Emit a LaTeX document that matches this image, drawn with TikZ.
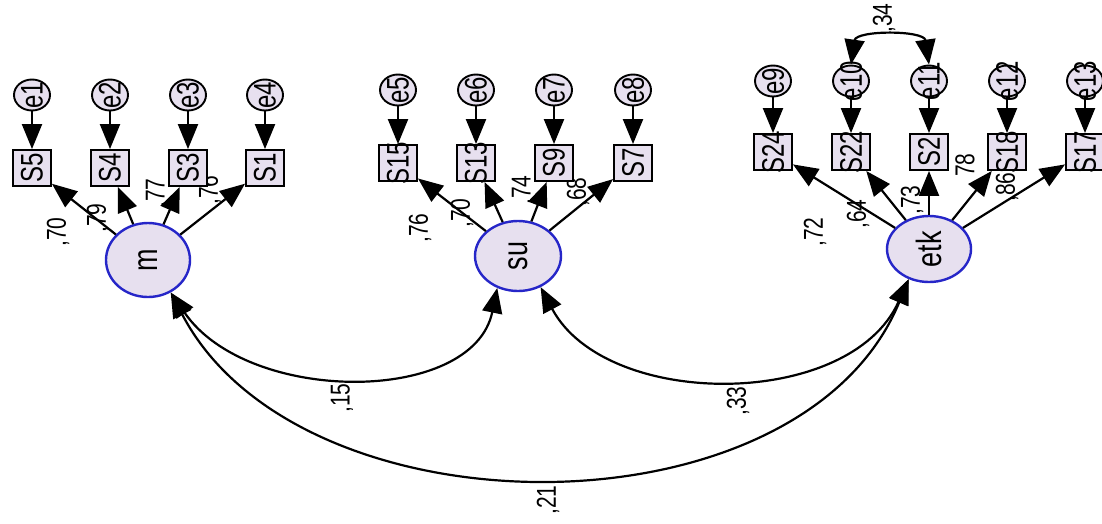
\documentclass[tikz,border=0pt]{standalone}
\usepackage{fontspec}
\setmainfont{Liberation Sans}
\usetikzlibrary{arrows.meta,shapes.geometric}
\definecolor{fillc}{HTML}{E7E0EF}
\definecolor{blu}{HTML}{2626C8}
\newcommand\stt[1]{\scalebox{1}[1.3]{#1}}
\begin{document}
\begin{tikzpicture}[x=1pt,y=-1pt,
  obstxt/.style={rotate=90,inner sep=0pt,font=\fontsize{24}{24}\selectfont},
  obs/.style={draw,line width=1.9pt,fill=fillc,minimum width=38pt,minimum height=36pt,inner sep=0pt,
    label={[obstxt]center:\stt{#1}}},
  err/.style={draw,ellipse,line width=1.9pt,fill=fillc,minimum width=36pt,minimum height=31pt,inner sep=0pt,
    label={[obstxt]center:\stt{#1}}},
  lattxt/.style={rotate=90,inner sep=0pt,font=\fontsize{27}{27}\selectfont},
  lat/.style={draw=blu,ellipse,line width=2.4pt,fill=fillc,inner sep=0pt,
    label={[lattxt]center:\stt{#1}}},
  plbl/.style={rotate=90,inner sep=0pt,font=\fontsize{21}{21}\selectfont},
  arr/.style={line width=2.2pt,-{Triangle[length=25pt,width=20pt]}},
  cov/.style={line width=2.2pt,{Triangle[length=25pt,width=20pt]}-{Triangle[length=25pt,width=20pt]}}]
\useasboundingbox (0,0) rectangle (1102,523);
\clip (0,0) rectangle (1102,523);

% path labels (drawn first, partly hidden as in the original)
\node[plbl] (l1) at (58,232) {\stt{,70}};
\node[plbl] (l2) at (98,218) {\stt{,79}};
\node[plbl] (l3) at (157,193) {\stt{,77}};
\node[plbl] (l4) at (210,190) {\stt{,76}};
\node[plbl] (l5) at (420,228) {\stt{,76}};
\node[plbl] (l6) at (462,213) {\stt{,70}};
\node[plbl] (l7) at (523,190) {\stt{,74}};
\node[plbl] (l8) at (578,192) {\stt{,68}};
\node[plbl] (l9) at (815,232) {\stt{,72}};
\node[plbl] (l10) at (858,214) {\stt{,64}};
\node[plbl] (l11) at (912,200) {\stt{,73}};
\node[plbl] (l12) at (965,165) {\stt{78}};
\node[plbl] (l13) at (1007,187) {\stt{,86}};
\node[plbl] (c1) at (342,398) {\stt{,15}};
\node[plbl] (c2) at (738,401) {\stt{,33}};
\node[plbl] (c3) at (548,500) {\stt{,21}};
\node[plbl] (c4) at (884,18) {\stt{,34}};

% latent variables
\node[lat=m,minimum width=84pt,minimum height=74pt] (m) at (148,260) {};
\node[lat=su,minimum width=86pt,minimum height=70pt] (su) at (518,256) {};
\node[lat=etk,minimum width=84pt,minimum height=66pt] (etk) at (929,249) {};

% observed + errors: left group
\foreach \n/\x/\e in {S5/32/e1,S4/110/e2,S3/188/e3,S1/265/e4}{
  \node[obs=\n] (\n) at (\x,168) {};
  \node[err=\e] (\e) at (\x,95) {};
  \draw[arr] (\e) -- (\n);
  \draw[arr] (m) -- (\n);
}
% middle group
\foreach \n/\x/\e in {S15/398/e5,S13/476/e6,S9/554/e7,S7/633/e8}{
  \node[obs=\n] (\n) at (\x,163) {};
  \node[err=\e] (\e) at (\x,90) {};
  \draw[arr] (\e) -- (\n);
  \draw[arr] (su) -- (\n);
}
% right group
\foreach \n/\x/\e in {S24/773/e9,S22/851/e10,S2/929/e11,S18/1007/e12,S17/1085/e13}{
  \node[obs=\n] (\n) at (\x,152) {};
  \node[err=\e] (\e) at (\x,81) {};
  \draw[arr] (\e) -- (\n);
  \draw[arr] (etk) -- (\n);
}

% covariances
\draw[cov] (m.-55) .. controls (248,405) and (473,405) .. (su.-123);
\draw[cov] (su.-54) .. controls (606,410) and (850,410) .. (etk.-124);
\draw[cov] (m.-55) .. controls (300,540) and (802,540) .. (etk.-124);
\draw[cov] (e10.north) .. controls (856,30) and (924,30) .. (e11.north);
\end{tikzpicture}
\end{document}
